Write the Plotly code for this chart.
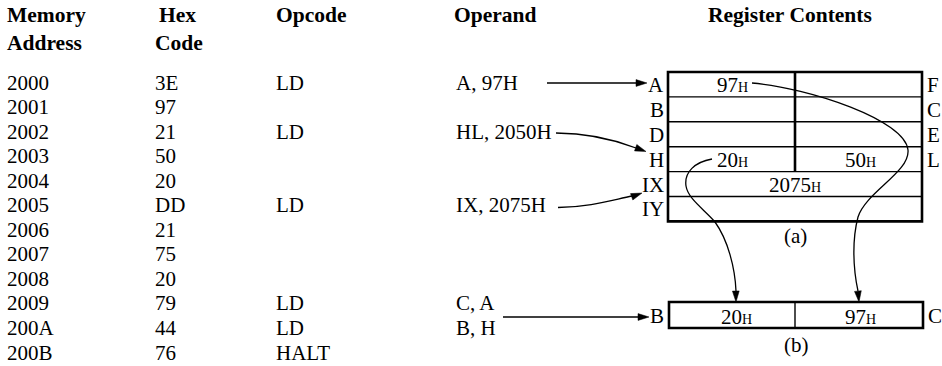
import plotly.graph_objects as go

# ---------------- data ----------------
addresses = ["2000", "2001", "2002", "2003", "2004", "2005",
             "2006", "2007", "2008", "2009", "200A", "200B"]
hex_codes = ["3E", "97", "21", "50", "20", "DD", "21", "75", "20", "79", "44", "76"]
opcodes = ["LD", "", "LD", "", "", "LD", "", "", "", "LD", "LD", "HALT"]
operands = ["A, 97H", "", "HL, 2050H", "", "", "IX, 2075H", "", "", "", "C, A", "B, H", ""]
col_headers = [["Memory", "Address"], ["Hex", "Code"], ["Opcode", ""], ["Operand", ""]]
panel_title = "Register Contents"
reg_left = ["A", "B", "D", "H", "IX", "IY"]
reg_right = ["F", "C", "E", "L"]
reg_values_a = {"A": "97", "H": "20", "L": "50", "IX": "2075"}
reg_b_names = ["B", "C"]
reg_b_values = ["20", "97"]
captions = ["(a)", "(b)"]

# ---------------- layout constants ----------------
W, H = 942, 366
FONT = "Liberation Serif"
FS = 21
FSB = 21.5
row0, dy = 82.5, 24.55
col_x = [6, 154, 275, 455]
hdr1_x = [6, 158, 275, 453]
hdr2_x = [6, 154]
hdr_y = [15, 43]

def ry(i):
    return row0 + i * dy

fig = go.Figure()
ann = []
shapes = []

def text(x, y, s, size=FS, bold=False, anchor="left"):
    ann.append(dict(x=x, y=y, xref="x", yref="y", text=("<b>%s</b>" % s) if bold else s,
                    showarrow=False, xanchor=anchor, yanchor="middle", borderpad=0,
                    font=dict(family=FONT, size=size, color="black")))

def hexval(v):
    return v + "<span style='font-size:14px'>H</span>"

# headers
for k, (h1, h2) in enumerate(col_headers):
    text(hdr1_x[k], hdr_y[0], h1, FSB, True)
    if h2:
        text(hdr2_x[k], hdr_y[1], h2, FSB, True)
text(790, hdr_y[0], panel_title, FSB, True, "center")

# table rows
for i in range(len(addresses)):
    y = ry(i)
    for x, col in zip(col_x, [addresses, hex_codes, opcodes, operands]):
        if col[i]:
            text(x, y, col[i])

# ---------------- register panel (a) ----------------
bx0, bx1, bmid = 668, 922, 795
rtop, rh = 72, 24.9
nrows = len(reg_left)
LW_OUT, LW_IN = 2.6, 1.4

def line(x0, y0, x1, y1, w=1.2):
    shapes.append(dict(type="line", xref="x", yref="y", x0=x0, y0=y0, x1=x1, y1=y1,
                       line=dict(color="black", width=w)))

for k in range(1, nrows):
    line(bx0, rtop + k * rh, bx1, rtop + k * rh, LW_IN)
line(bmid, rtop, bmid, rtop + 4 * rh, LW_OUT)
shapes.append(dict(type="rect", xref="x", yref="y", x0=bx0, x1=bx1, y0=rtop, y1=rtop + nrows * rh,
                   line=dict(color="black", width=LW_OUT)))

for k, nm in enumerate(reg_left):
    text(665, rtop + (k + 0.5) * rh + 0.5, nm, FS, False, "right")
for k, nm in enumerate(reg_right):
    text(926, rtop + (k + 0.5) * rh + 0.5, nm, FS, False, "left")

cx_left, cx_right = 732, 860
text(cx_left, rtop + 0.5 * rh + 0.5, hexval(reg_values_a["A"]), FS, False, "center")
text(cx_left, rtop + 3.5 * rh + 0.5, hexval(reg_values_a["H"]), FS, False, "center")
text(cx_right, rtop + 3.5 * rh + 0.5, hexval(reg_values_a["L"]), FS, False, "center")
text(bmid, rtop + 4.5 * rh + 0.5, hexval(reg_values_a["IX"]), FS, False, "center")
text(795, 236, captions[0], FS, False, "center")

# ---------------- register panel (b) ----------------
b_top, b_bot = 302, 328
bx0b, bx1b = 669, 923
shapes.append(dict(type="rect", xref="x", yref="y", x0=bx0b, x1=bx1b, y0=b_top, y1=b_bot,
                   line=dict(color="black", width=LW_OUT)))
line(bmid, b_top, bmid, b_bot, LW_IN)
text(665, (b_top + b_bot) / 2 + 1, reg_b_names[0], FS, False, "right")
text(927, (b_top + b_bot) / 2 + 1, reg_b_names[1], FS, False, "left")
text(736, (b_top + b_bot) / 2 + 1.5, hexval(reg_b_values[0]), FS, False, "center")
text(860, (b_top + b_bot) / 2 + 1.5, hexval(reg_b_values[1]), FS, False, "center")
text(796, 345, captions[1], FS, False, "center")

# ---------------- arrows ----------------
def head(tx, ty, dx, dy_, L=11, Wd=3.4):
    n = (dx * dx + dy_ * dy_) ** 0.5
    ux, uy = dx / n, dy_ / n
    px, py = -uy, ux
    bx, by = tx - ux * L, ty - uy * L
    p = "M %.1f,%.1f L %.1f,%.1f L %.1f,%.1f Z" % (tx, ty, bx + px * Wd, by + py * Wd,
                                                   bx - px * Wd, by - py * Wd)
    shapes.append(dict(type="path", xref="x", yref="y", path=p,
                       fillcolor="black", line=dict(color="black", width=0.5)))

def curve(p):
    shapes.append(dict(type="path", xref="x", yref="y", path=p,
                       line=dict(color="black", width=1.3)))

# A, 97H -> A
line(547, 83, 637, 83, 1.3)
head(647, 83, 1, 0)
# HL, 2050H -> H
curve("M 556,133 C 590,133 615,140 636,148")
head(646, 151.5, 3, 1.1)
# IX, 2075H -> IX/IY
curve("M 558,207.5 C 590,207 612,200 632,196")
head(642, 193, 3, -1.1)
# C, A / B, H -> B
line(503, 317, 639, 317, 1.3)
head(649, 317, 1, 0)

# 97H (A) -> C in (b)
curve("M 752,83 C 810,88 905,120 908,150 C 910,172 866,192 858,217 "
      "C 852,240 853,268 858,291")
head(859, 302, 0.1, 1)
# 20H (H) -> B in (b)
curve("M 712,159 C 695,162 684,172 686,186 C 688,199 705,210 715,222 "
      "C 728,240 735,268 736,291")
head(736, 302, 0.02, 1)

fig.update_layout(
    width=W, height=H, margin=dict(l=0, r=0, t=0, b=0),
    paper_bgcolor="white", plot_bgcolor="white",
    xaxis=dict(range=[0, W], visible=False, fixedrange=True),
    yaxis=dict(range=[H, 0], visible=False, fixedrange=True),
    annotations=ann, shapes=shapes, showlegend=False,
)
fig.write_html("out.html", config={"displayModeBar": False},
               post_script="document.body.style.margin='0px';")
